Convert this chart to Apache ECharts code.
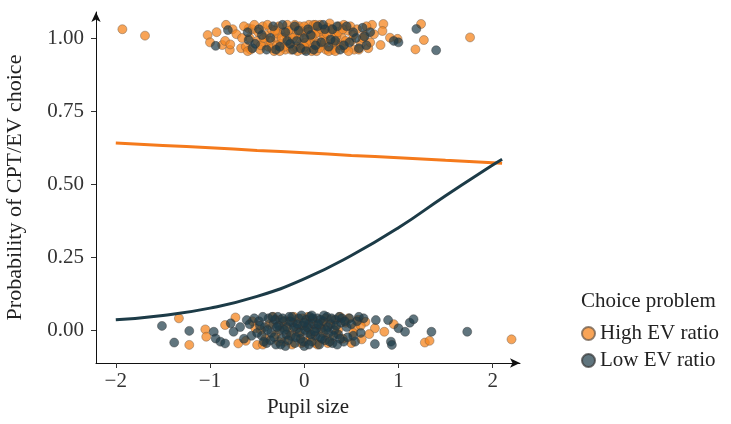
<!DOCTYPE html>
<html>
<head>
<meta charset="utf-8">
<script src="https://cdn.jsdelivr.net/npm/echarts@6/dist/echarts.min.js"></script>
<style>
  html, body { margin: 0; padding: 0; background: #fff; }
  #main { width: 731px; height: 424px; }
</style>
</head>
<body>
<div id="main"></div>
<script>
// jittered choices (x = pupil size, y = 1 or 0 with jitter)
var topHigh = [
  [-1.93, 1.03], [-1.69, 1.008], [-1.025, 1.01], [-0.93, 1.02], [-0.83, 1.045], [-0.76, 1.03],
  [-0.72, 1.013], [-1.0, 0.985], [-0.87, 0.976], [-0.84, 0.99], [-0.79, 0.959], [-0.785, 0.978],
  [-0.67, 0.965], [-0.59, 1.033], [-0.62, 0.97], [-0.55, 1.03], [-0.5, 0.99], [-0.47, 0.96],
  [-0.44, 1.04], [-0.4, 1.01], [-0.38, 0.97], [-0.35, 1.03], [-0.32, 0.955], [-0.3, 1.0],
  [-0.27, 1.04], [-0.25, 0.98], [-0.22, 1.02], [-0.2, 0.96], [-0.18, 1.045], [-0.16, 0.99],
  [-0.13, 1.03], [-0.11, 0.97], [-0.09, 1.01], [-0.07, 0.955], [-0.05, 1.04], [-0.03, 0.98],
  [-0.01, 1.02], [0.01, 0.96], [0.03, 1.0], [0.05, 1.045], [0.07, 0.97], [0.09, 1.03],
  [0.11, 0.99], [0.13, 0.955], [0.15, 1.02], [0.17, 1.045], [0.19, 0.975], [0.21, 1.01],
  [0.23, 0.96], [0.25, 1.035], [0.28, 0.99], [0.3, 0.96], [0.32, 1.02], [0.35, 0.975],
  [0.37, 1.04], [0.4, 1.0], [0.43, 0.965], [0.46, 1.025], [0.5, 0.99], [0.53, 0.96],
  [0.56, 1.03], [0.6, 0.98], [0.64, 1.01], [0.68, 0.965], [-0.58, 1.0], [-0.42, 0.985],
  [-0.28, 1.015], [-0.14, 0.96], [-0.06, 1.0], [0.0, 1.04], [0.06, 0.985], [0.12, 1.015],
  [0.2, 0.995], [0.27, 1.05], [0.34, 1.005], [-0.36, 0.99], [-0.19, 1.005], [0.08, 0.955],
  [0.42, 1.045], [-0.1, 1.045], [0.16, 0.965], [0.72, 1.045], [0.84, 1.048], [0.83, 1.024],
  [0.74, 1.013], [0.81, 0.976], [0.91, 1.001], [0.99, 0.997], [1.24, 1.048], [1.27, 0.993],
  [1.18, 0.961], [1.76, 1.002], [-0.64, 1.04], [-0.57, 0.96], [-0.53, 1.045], [-0.49, 1.02],
  [-0.46, 0.975], [-0.43, 1.0], [-0.39, 1.045], [-0.34, 0.965], [-0.31, 1.025], [-0.29, 0.975],
  [-0.24, 1.0], [-0.21, 0.97], [-0.17, 1.025], [-0.12, 1.0], [-0.08, 0.97], [-0.04, 1.025],
  [-0.02, 0.96], [0.02, 0.985], [0.04, 1.02], [0.08, 1.005], [0.1, 1.045], [0.14, 0.98],
  [0.18, 1.03], [0.22, 0.985], [0.24, 1.015], [0.26, 0.955], [0.29, 1.03], [0.31, 0.985],
  [0.33, 0.955], [0.36, 1.02], [0.39, 0.975], [0.41, 1.03], [0.44, 0.99], [0.47, 0.955],
  [0.49, 1.04], [0.52, 1.01], [0.58, 0.96], [0.62, 1.0], [0.66, 1.04], [0.7, 0.985],
  [-0.66, 1.0], [-0.6, 0.955], [0.0, 0.97], [-0.26, 0.955], [0.12, 1.045]
];
var topLow = [
  [-0.81, 1.027], [-0.94, 0.973], [-0.59, 0.993], [-0.6, 1.02], [-0.52, 0.98], [-0.45, 1.01],
  [-0.4, 0.96], [-0.33, 1.04], [-0.26, 0.97], [-0.2, 1.02], [-0.15, 0.98], [-0.1, 1.04],
  [-0.04, 0.965], [0.0, 1.0], [0.04, 1.03], [0.1, 0.96], [0.14, 1.04], [0.18, 0.985],
  [0.22, 1.03], [0.26, 0.97], [0.33, 0.99], [0.38, 0.96], [0.45, 1.04], [0.48, 0.985],
  [0.55, 1.0], [0.62, 1.035], [0.66, 0.975], [0.7, 1.02], [-0.08, 0.99], [0.3, 1.03],
  [0.95, 0.99], [1.0, 0.985], [1.19, 1.031], [1.4, 0.958], [-0.55, 0.965], [-0.48, 1.03],
  [-0.36, 1.0], [-0.3, 0.96], [-0.23, 1.045], [-0.12, 0.96], [-0.06, 1.025], [0.02, 0.955],
  [0.07, 1.01], [0.12, 0.975], [0.2, 1.045], [0.28, 0.995], [0.35, 1.04], [0.42, 0.975],
  [0.52, 1.02], [0.58, 0.965], [0.64, 1.005], [-0.18, 0.99]
];
var bottomLow = [
  [-1.51, 0.014], [-1.22, -0.003], [-1.38, -0.043], [-0.96, -0.006], [-0.94, -0.029], [-0.89, -0.04],
  [-0.84, -0.046], [-0.78, 0.023], [-0.75, -0.006], [-0.61, 0.034], [-0.68, 0.01], [-0.56, -0.02],
  [-0.48, 0.03], [-0.45, -0.02], [-0.42, 0.01], [-0.4, -0.045], [-0.38, 0.04], [-0.35, -0.01],
  [-0.33, 0.02], [-0.3, -0.05], [-0.28, 0.045], [-0.26, 0.0], [-0.24, -0.03], [-0.22, 0.03],
  [-0.2, -0.055], [-0.18, 0.01], [-0.16, 0.045], [-0.14, -0.02], [-0.12, 0.025], [-0.1, -0.045],
  [-0.08, 0.005], [-0.06, 0.04], [-0.04, -0.03], [-0.02, 0.015], [0.0, -0.055], [0.02, 0.035],
  [0.04, -0.01], [0.06, 0.045], [0.08, -0.04], [0.1, 0.02], [0.12, -0.02], [0.14, 0.04],
  [0.16, -0.05], [0.18, 0.005], [0.2, 0.03], [0.22, -0.035], [0.24, 0.045], [0.26, -0.01],
  [0.28, 0.02], [0.3, -0.045], [0.33, 0.035], [0.36, -0.015], [0.39, 0.025], [0.42, -0.04],
  [0.45, 0.01], [0.48, 0.04], [0.52, -0.02], [0.56, 0.03], [0.6, -0.01], [-0.44, 0.045],
  [-0.36, -0.035], [-0.27, 0.015], [-0.19, -0.015], [-0.11, 0.01], [-0.05, -0.01], [0.01, 0.0],
  [0.07, -0.015], [0.13, 0.005], [0.19, -0.03], [0.25, 0.01], [0.32, 0.0], [0.4, 0.04],
  [-0.15, 0.03], [0.05, 0.02], [0.17, 0.035], [-0.31, 0.035], [0.35, -0.05], [0.63, 0.04],
  [0.76, 0.034], [0.89, 0.034], [1.0, 0.006], [1.07, -0.006], [1.12, 0.025], [1.16, 0.037],
  [0.75, -0.048], [0.92, -0.04], [0.93, -0.051], [1.35, -0.006], [1.73, -0.006],
  [-0.5, -0.01], [-0.47, 0.015], [-0.43, -0.04], [-0.39, 0.0], [-0.34, 0.045], [-0.32, -0.025],
  [-0.29, 0.01], [-0.25, -0.05], [-0.23, 0.04], [-0.21, 0.0], [-0.17, -0.035], [-0.13, 0.045],
  [-0.09, -0.025], [-0.07, 0.02], [-0.03, 0.05], [-0.01, -0.04], [0.03, 0.01], [0.05, -0.05],
  [0.09, 0.04], [0.11, -0.005], [0.15, 0.02], [0.17, -0.025], [0.21, 0.05], [0.23, 0.0],
  [0.27, -0.04], [0.29, 0.04], [0.31, -0.02], [0.34, 0.015], [0.37, 0.045], [0.38, -0.03],
  [0.43, 0.03], [0.46, -0.025], [0.5, 0.02], [0.54, -0.04], [0.58, 0.045], [-0.58, 0.02],
  [-0.64, -0.03], [-0.53, 0.04], [0.0, 0.025], [0.08, 0.05]
];
var bottomHigh = [
  [-1.33, 0.04], [-1.22, -0.051], [-1.05, 0.002], [-1.04, -0.023], [-0.84, 0.017], [-0.73, 0.043],
  [-0.7, -0.046], [-0.62, -0.037], [-0.52, 0.006], [-0.5, -0.051], [-0.46, 0.0], [-0.41, -0.03],
  [-0.37, 0.02], [-0.3, -0.015], [-0.25, 0.035], [-0.21, -0.04], [-0.17, 0.0], [-0.13, -0.05],
  [-0.09, 0.03], [-0.05, -0.02], [-0.02, 0.04], [0.02, -0.04], [0.05, 0.005], [0.09, 0.035],
  [0.12, -0.045], [0.15, 0.015], [0.2, -0.01], [0.23, 0.04], [0.27, -0.03], [0.31, 0.02],
  [0.34, -0.01], [0.38, 0.045], [0.41, -0.03], [0.44, 0.025], [0.5, -0.045], [0.54, 0.01],
  [-0.07, -0.005], [0.07, -0.025], [-0.23, 0.01], [0.18, 0.02], [0.65, 0.028], [0.75, 0.006],
  [0.69, -0.014], [0.85, -0.006], [0.95, 0.02], [0.61, -0.032], [1.28, -0.043], [1.33, -0.037],
  [2.2, -0.032], [-0.55, 0.03], [-0.44, -0.05], [-0.33, 0.045], [-0.27, -0.04], [-0.19, 0.03],
  [-0.15, -0.02], [-0.11, 0.045], [-0.03, -0.045], [0.0, 0.015], [0.04, 0.045], [0.1, -0.01],
  [0.14, -0.05], [0.22, 0.015], [0.25, -0.045], [0.29, 0.035], [0.36, 0.0], [0.47, 0.04],
  [0.52, -0.01], [0.57, 0.035], [0.6, 0.015]
];
// fitted curves
var fitX = [-2, -1.5, -1, -0.5, 0, 0.5, 1, 1.5, 2, 2.1];
var fitHigh = [0.64, 0.632, 0.624, 0.615, 0.607, 0.598, 0.59, 0.581, 0.573, 0.571];
var fitLow = [0.035, 0.05, 0.075, 0.115, 0.175, 0.255, 0.35, 0.46, 0.565, 0.585];
var xTicks = [-2, -1, 0, 1, 2];
var yTicks = [0, 0.25, 0.5, 0.75, 1];

var orange = '#f5861f';
var dark = '#1c3b47';
var font = 'Liberation Serif';

function pairs(xs, ys) {
  var out = [];
  for (var i = 0; i < xs.length; i++) out.push([xs[i], ys[i]]);
  return out;
}

var myChart = echarts.init(document.getElementById('main'));
var option = {
  backgroundColor: '#fff',
  animation: false,
  title: {
    text: 'Choice problem',
    left: 576,
    top: 286,
    textStyle: { fontFamily: font, fontSize: 21, fontWeight: 'normal', color: '#222' }
  },
  legend: {
    data: ['High EV ratio', 'Low EV ratio'],
    orient: 'vertical',
    left: 576,
    top: 318,
    icon: 'circle',
    itemWidth: 13,
    itemHeight: 13,
    itemGap: 6,
    textStyle: { fontFamily: font, fontSize: 21, color: '#222' }
  },
  grid: { left: 96, right: 211, top: 12, bottom: 61, outerBoundsMode: 'none' },
  xAxis: {
    type: 'value',
    min: -2.21,
    max: 2.29,
    name: 'Pupil size',
    nameLocation: 'middle',
    nameGap: 34,
    nameTextStyle: { fontFamily: font, fontSize: 21, color: '#222' },
    splitLine: { show: false },
    axisLine: { onZero: false, lineStyle: { color: '#111', width: 1 }, symbol: ['none', 'arrow'], symbolSize: [7, 10] },
    axisTick: { customValues: xTicks, length: 5, lineStyle: { color: '#333' } },
    axisLabel: {
      customValues: xTicks,
      margin: 8,
      fontFamily: font,
      fontSize: 21,
      color: '#333',
      formatter: function (v) { return String(v).replace('-', '\u2212'); }
    }
  },
  yAxis: {
    type: 'value',
    min: -0.113,
    max: 1.089,
    name: 'Probability of CPT/EV choice',
    nameLocation: 'middle',
    nameGap: 70,
    nameTextStyle: { fontFamily: font, fontSize: 22, color: '#222' },
    splitLine: { show: false },
    axisLine: { show: true, onZero: false, lineStyle: { color: '#111', width: 1 }, symbol: ['none', 'arrow'], symbolSize: [7, 10] },
    axisTick: { show: true, customValues: yTicks, length: 5, lineStyle: { color: '#333' } },
    axisLabel: {
      customValues: yTicks,
      margin: 12,
      fontFamily: font,
      fontSize: 21,
      color: '#333',
      formatter: function (v) { return v.toFixed(2); }
    }
  },
  series: [
    {
      name: 'High EV ratio',
      type: 'scatter',
      symbolSize: 9,
      data: topHigh.concat(bottomHigh),
      itemStyle: { color: orange, opacity: 0.75, borderColor: '#6b5a4a', borderWidth: 0.6 }
    },
    {
      name: 'Low EV ratio',
      type: 'scatter',
      symbolSize: 9,
      data: topLow.concat(bottomLow),
      itemStyle: { color: dark, opacity: 0.7, borderColor: '#333', borderWidth: 0.6 }
    },
    {
      name: 'High fit',
      type: 'line',
      smooth: true,
      showSymbol: false,
      data: pairs(fitX, fitHigh),
      lineStyle: { color: '#f57a1c', width: 3 },
      z: 3
    },
    {
      name: 'Low fit',
      type: 'line',
      smooth: true,
      showSymbol: false,
      data: pairs(fitX, fitLow),
      lineStyle: { color: dark, width: 3 },
      z: 3
    }
  ]
};
myChart.setOption(option);
</script>
</body>
</html>
